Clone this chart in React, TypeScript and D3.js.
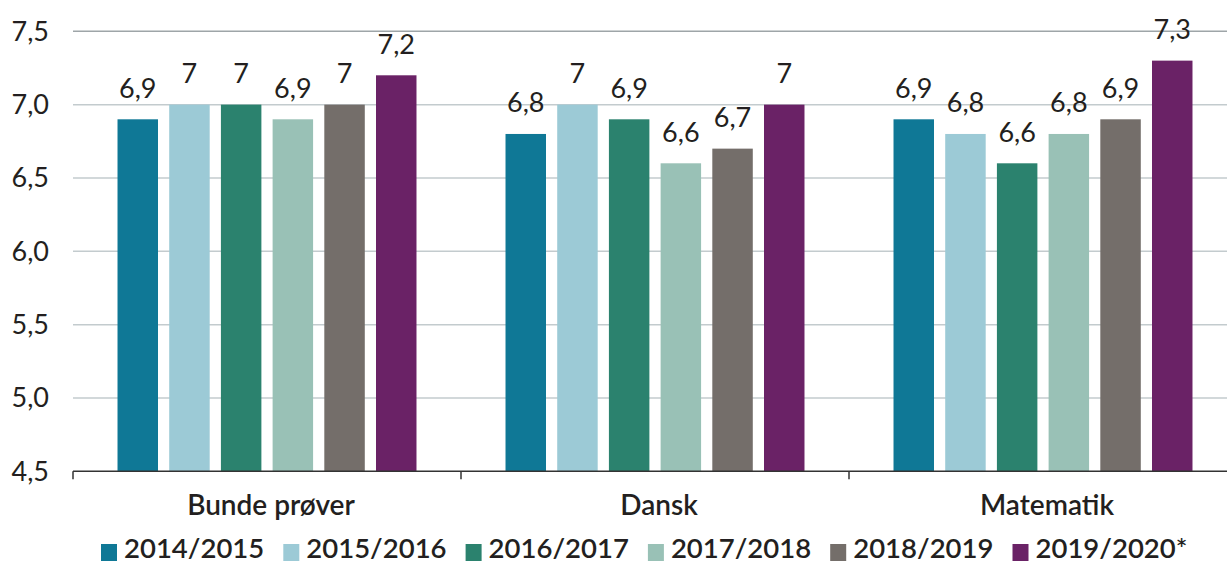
import React from "react";
import * as d3 from "d3";

const categories = ["Bunde prøver", "Dansk", "Matematik"];
const seriesNames = ["2014/2015", "2015/2016", "2016/2017", "2017/2018", "2018/2019", "2019/2020*"];
const s2014 = [6.9, 6.8, 6.9];
const s2015 = [7.0, 7.0, 6.8];
const s2016 = [7.0, 6.9, 6.6];
const s2017 = [6.9, 6.6, 6.8];
const s2018 = [7.0, 6.7, 6.9];
const s2019 = [7.2, 7.0, 7.3];
const seriesValues = [s2014, s2015, s2016, s2017, s2018, s2019];
const colors = ["#0f7896", "#9ccad6", "#2b826e", "#99c1b6", "#746e6a", "#6a2266"];
const yTicks = [4.5, 5.0, 5.5, 6.0, 6.5, 7.0, 7.5];

const fmtTick = (v: number) => v.toFixed(1).replace(".", ",");
const fmtVal = (v: number) => String(v).replace(".", ",");

export default function App() {
  const W = 1227, H = 563;
  const left = 73, right = 1237, top = 31.3, bottom = 471.3;
  const x0 = d3.scaleBand<string>().domain(categories).range([left, right]).paddingInner(0).paddingOuter(0);
  const x1 = d3.scaleBand<string>().domain(seriesNames).range([0, x0.bandwidth()]).paddingInner(0.217).paddingOuter(0.861);
  const y = d3.scaleLinear().domain([4.5, 7.5]).range([bottom, top]);
  const textColor = "#231f20";
  const font = "Lato, 'Open Sans', sans-serif";
  const legendStep = 182.3;
  const legendX0 = 101;

  return (
    <svg width={W} height={H} style={{ display: "block", position: "absolute", left: 0, top: 0 }} fontFamily={font}>
      <rect width={W} height={H} fill="#fff" />
      {yTicks.map((t) => (
        <g key={t}>
          {t > 4.5 && (
            <line x1={left} x2={W} y1={y(t)} y2={y(t)} stroke={t === 7.5 ? "#9ea5a8" : "#c3cbce"} strokeWidth={1.5} />
          )}
          <text x={49} y={y(t)} dy={9.5} textAnchor="end" fontSize={27} fill={textColor}>
            {fmtTick(t)}
          </text>
        </g>
      ))}
      {categories.map((c, ci) => (
        <g key={c}>
          {seriesNames.map((s, si) => {
            const v = seriesValues[si][ci];
            const bx = (x0(c) as number) + (x1(s) as number);
            return (
              <g key={s}>
                <rect x={bx} y={y(v)} width={x1.bandwidth()} height={bottom - y(v)} fill={colors[si]} />
                <text x={bx + x1.bandwidth() / 2} y={y(v) - 21.5} textAnchor="middle" fontSize={27} fill={textColor}>
                  {fmtVal(v)}
                </text>
              </g>
            );
          })}
          <text x={(x0(c) as number) + x0.bandwidth() / 2 + 4} y={515} textAnchor="middle" fontSize={28} fontWeight={600} fill={textColor}>
            {c}
          </text>
        </g>
      ))}
      <line x1={left} x2={W} y1={bottom} y2={bottom} stroke="#333" strokeWidth={1.5} />
      {categories.map((c) => (
        <line key={c} x1={x0(c) as number} x2={x0(c) as number} y1={bottom} y2={bottom + 8} stroke="#333" strokeWidth={1.5} />
      ))}
      {seriesNames.map((s, i) => (
        <g key={s} transform={`translate(${legendX0 + i * legendStep},0)`}>
          <rect x={0} y={544} width={16} height={17} fill={colors[i]} />
          <text x={23} y={558} fontSize={27.5} fontWeight={600} fill={textColor}>
            {s}
          </text>
        </g>
      ))}
    </svg>
  );
}
